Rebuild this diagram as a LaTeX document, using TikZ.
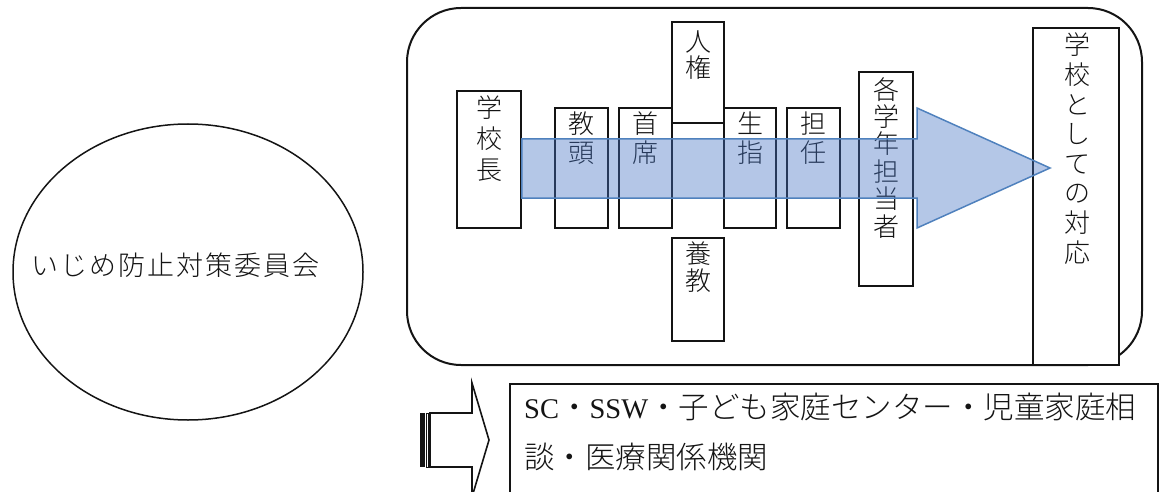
\documentclass[tikz,border=0pt]{standalone}
\usepackage{fontspec}
\newfontfamily\cjk{Noto Sans CJK JP Light}
\newfontfamily\lat{Liberation Serif}
\usetikzlibrary{shapes.geometric}
\definecolor{arrowfill}{RGB}{68,114,196}
\definecolor{arrowline}{RGB}{79,129,189}
\definecolor{ink}{RGB}{20,20,20}
\begin{document}
\begin{tikzpicture}[x=1pt,y=-1pt,
  box/.style={draw=ink, line width=1.6pt, fill=white, inner sep=0pt},
  vtext/.style={font=\cjk\fontsize{26}{#1}\selectfont, align=center, inner sep=0pt, anchor=north, text=ink},
  blockarrow/.style={fill=arrowfill, fill opacity=0.4, draw=arrowline, draw opacity=1, line width=1.5pt, line join=miter}
]
\useasboundingbox (0,0) rectangle (1159,492);
\clip (0,0) rectangle (1159,492);

% committee circle
\node[draw=ink, line width=1.5pt, ellipse, minimum width=350pt, minimum height=296pt, inner sep=0pt] (committee) at (188,272) {};
\node[font=\cjk\fontsize{27}{30}\selectfont\addfontfeature{LetterSpace=7.5}, anchor=west, inner sep=0pt, text=ink] (committeetext) at (31,265) {いじめ防止対策委員会};

% outer rounded frame
\node[draw=ink, line width=2pt, rounded corners=54pt, minimum width=735pt, minimum height=357pt, inner sep=0pt] (frame) at (774.5,186.5) {};

% boxes
\node[box, minimum width=64pt, minimum height=137pt] (kouchou) at (489,159.5) {};
\node[box, minimum width=53pt, minimum height=120pt] (kyoutou) at (581.5,168) {};
\node[box, minimum width=53pt, minimum height=120pt] (shuseki) at (645.5,168) {};
\node[box, minimum width=52pt, minimum height=101pt] (jinken) at (698,72.5) {};
\node[box, minimum width=52pt, minimum height=120pt] (seishi) at (750,168) {};
\node[box, minimum width=53pt, minimum height=120pt] (tannin) at (813.5,168) {};
\node[box, minimum width=54pt, minimum height=214pt] (kakugaku) at (886,179) {};
\node[box, minimum width=52pt, minimum height=103pt] (youkyou) at (698,289.5) {};
\node[box, minimum width=86pt, minimum height=337pt] (taiou) at (1076,196.5) {};

% vertical texts
\node[vtext=31] (t-kouchou) at (489,96) {学\\校\\長};
\node[vtext=29] (t-kyoutou) at (581.5,112) {教\\頭};
\node[vtext=29] (t-shuseki) at (645.5,112) {首\\席};
\node[vtext=25.5] (t-jinken) at (698,31) {人\\権};
\node[vtext=29] (t-seishi) at (750,112) {生\\指};
\node[vtext=29] (t-tannin) at (813.5,112) {担\\任};
\node[vtext=27.4] (t-kakugaku) at (886,77) {各\\学\\年\\担\\当\\者};
\node[vtext=26.5] (t-youkyou) at (698,242) {養\\教};
\node[vtext=29.6] (t-taiou) at (1077,33) {学\\校\\と\\し\\て\\の\\対\\応};

% big translucent arrow
\draw[blockarrow] (kouchou.east |- 0,139) -- (917,139) -- (917,108) -- (1050,168) -- (917,228) -- (917,198) -- (kouchou.east |- 0,198) -- cycle;

% striped arrow at the bottom
\fill[ink] (420,413) rectangle (424.5,467);
\draw[ink, line width=0.9pt] (426.3,413) rectangle (428.2,467);
\draw[ink, line width=1.6pt, fill=white, line join=miter] (430,413) -- (472,413) -- (472,383) -- (489,440) -- (472,497) -- (472,467) -- (430,467) -- cycle;

% bottom box
\node[box, line width=2pt, minimum width=648pt, minimum height=130pt, anchor=north west] (agencies) at (509,383) {};
\node[font=\cjk\fontsize{30.5}{50}\selectfont, align=left, anchor=north west, inner sep=0pt, text=ink] (agenciestext) at (524,393) {{\lat\fontsize{28.5}{50}\selectfont SC}・{\lat\fontsize{28.5}{50}\selectfont SSW}・子ども家庭センター・児童家庭相\\談・医療関係機関};
\end{tikzpicture}
\end{document}
